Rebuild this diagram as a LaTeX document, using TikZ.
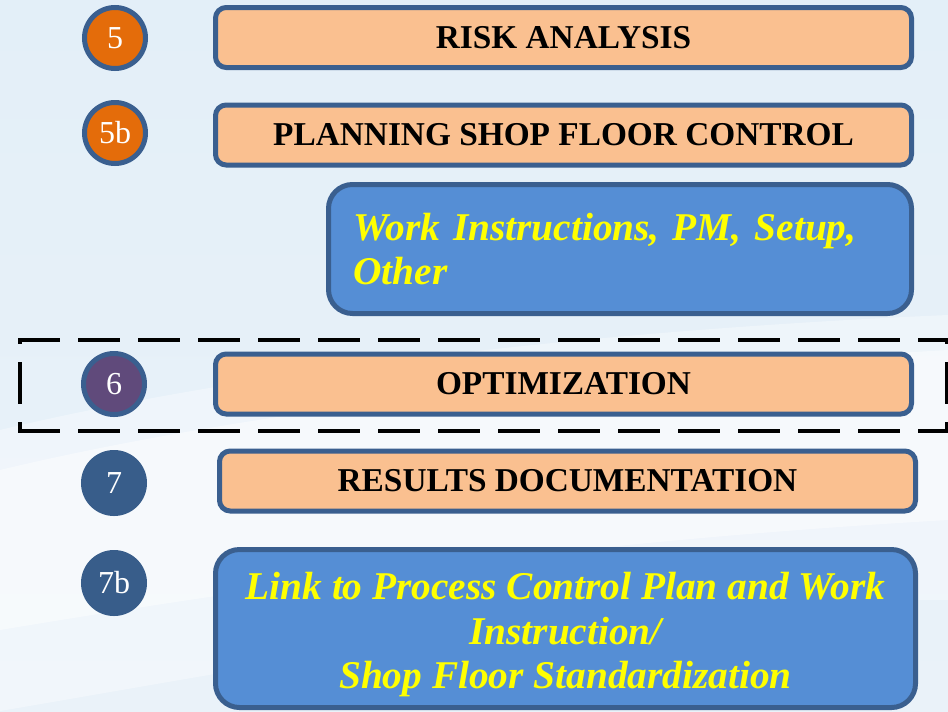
\documentclass[tikz,border=0pt]{standalone}
\usepackage{fontspec}
\setmainfont{Liberation Serif}
\definecolor{bordc}{HTML}{3A5F8F}
\definecolor{peach}{HTML}{FAC090}
\definecolor{bluebox}{HTML}{558ED5}
\definecolor{orangec}{HTML}{E46C0A}
\definecolor{purplec}{HTML}{604A7B}
\definecolor{navyc}{HTML}{385D8A}
\definecolor{bgtop}{HTML}{E3EFF8}
\definecolor{bgbot}{HTML}{EAF2F9}
\definecolor{yel}{HTML}{FFFF00}
\begin{document}
\begin{tikzpicture}[x=0.75pt,y=-0.75pt,
 stepnum/.style={circle, draw=bordc, line width=3.75pt, minimum size=45.75pt, inner sep=0pt, text=white, font=\fontsize{24}{28}\selectfont},
 titlebox/.style={rectangle, rounded corners=8pt, draw=bordc, fill=peach, line width=3.75pt, minimum width=522pt, minimum height=45pt, inner sep=0pt, font=\bfseries\fontsize{25}{29}\selectfont},
 notebox/.style={rectangle, rounded corners=18pt, draw=bordc, fill=bluebox, line width=3.75pt, text=yel, font=\bfseries\itshape\fontsize{29.5}{33.5}\selectfont},
 dashline/.style={line width=3.6pt, dash pattern=on 31.5pt off 13.5pt}
]
% background
\fill[top color=bgtop, bottom color=bgbot] (0,0) rectangle (948,711);
\useasboundingbox (0,0) rectangle (948,711);
\fill[white, opacity=0.35] (0,430) .. controls (250,370) and (600,330) .. (948,315) -- (948,600) .. controls (600,600) and (300,660) .. (0,711) -- cycle;
\fill[white, opacity=0.45] (0,470) .. controls (250,410) and (600,370) .. (948,350) -- (948,520) .. controls (600,540) and (300,580) .. (0,630) -- cycle;

% step circles
\node[stepnum, fill=orangec] (c5) at (115,38) {5};
\node[stepnum, fill=orangec] (c5b) at (115,133) {5b};
\node[stepnum, fill=purplec] (c6) at (114,384) {6};
\node[stepnum, fill=navyc, draw=navyc] (c7) at (114,483) {7};
\node[stepnum, fill=navyc, draw=navyc] (c7b) at (114,583) {7b};

% boxes
\node[titlebox] (risk) at (563.5,37.5) {RISK ANALYSIS};
\node[titlebox] (plan) at (563.5,135) {PLANNING SHOP FLOOR CONTROL};
\node[notebox, minimum width=437.25pt, minimum height=96.75pt, text width=400pt, inner xsep=18.6pt, align=left] (work) at (620,249) {Work Instructions, PM, Setup,\\Other};
\node[titlebox] (opt) at (563.5,384) {OPTIMIZATION};
\node[titlebox] (res) at (567.5,481) {RESULTS DOCUMENTATION};
\node[notebox, minimum width=525pt, minimum height=118.5pt, align=center] (link) at (565.5,628.5) {\rule{0pt}{30pt}Link to Process Control Plan and Work\\Instruction/\\Shop Floor Standardization};

% dashed frame
\draw[dashline] (18,340) -- (960,340);
\draw[dashline] (18,431) -- (960,431);
\draw[dashline, dash phase=28.5pt] (20,340) -- (20,431);
\draw[dashline, dash phase=28.5pt] (947,340) -- (947,431);
\end{tikzpicture}
\end{document}
